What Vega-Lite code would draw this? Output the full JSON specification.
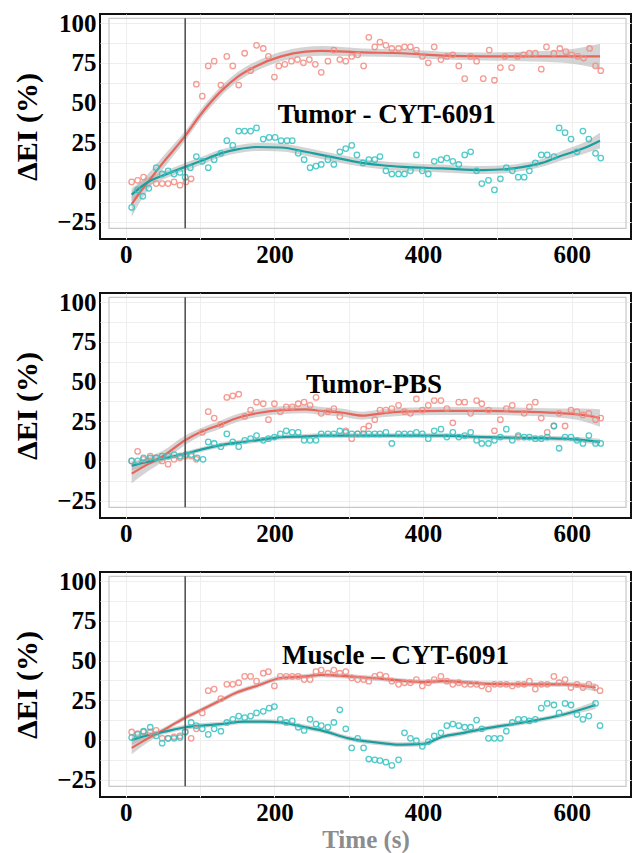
{
 "$schema": "https://vega.github.io/schema/vega-lite/v6.json",
 "padding": {"left": 11, "top": 10, "right": 0, "bottom": 0},
 "autosize": {"type": "pad"},
 "background": "white",
 "config": {
  "font": "Liberation Serif",
  "view": {"stroke": "#111111", "strokeWidth": 2},
  "axis": {"labelFont": "Liberation Serif", "labelFontWeight": "bold", "labelFontSize": 25, "labelColor": "#000", "titleFont": "Liberation Serif", "titleFontWeight": "bold", "titleFontSize": 30, "titleColor": "#000", "domain": false, "ticks": false, "tickSize": 0, "grid": false, "labelOverlap": false},
  "concat": {"spacing": 21}
 },
 "datasets": {
  "pts": [
   {"p":1,"g":"A","t":8,"v":0},{"p":1,"g":"A","t":16,"v":1},{"p":1,"g":"A","t":24,"v":3},{"p":1,"g":"A","t":41,"v":-1},{"p":1,"g":"A","t":49,"v":-1},{"p":1,"g":"A","t":57,"v":-1},{"p":1,"g":"A","t":65,"v":0},{"p":1,"g":"A","t":73,"v":-2},{"p":1,"g":"A","t":81,"v":0},{"p":1,"g":"A","t":88,"v":2},{"p":1,"g":"A","t":95,"v":61.5},{"p":1,"g":"A","t":103,"v":54},{"p":1,"g":"A","t":111,"v":73},{"p":1,"g":"A","t":119,"v":76},{"p":1,"g":"A","t":128,"v":61},{"p":1,"g":"A","t":136,"v":79},{"p":1,"g":"A","t":144,"v":73},{"p":1,"g":"A","t":152,"v":61},{"p":1,"g":"A","t":160,"v":81},{"p":1,"g":"A","t":168,"v":70},{"p":1,"g":"A","t":176,"v":86},{"p":1,"g":"A","t":185,"v":84},{"p":1,"g":"A","t":192,"v":79},{"p":1,"g":"A","t":200,"v":66},{"p":1,"g":"A","t":206,"v":73},{"p":1,"g":"A","t":214,"v":74},{"p":1,"g":"A","t":223,"v":76},{"p":1,"g":"A","t":231,"v":77},{"p":1,"g":"A","t":239,"v":75},{"p":1,"g":"A","t":247,"v":77},{"p":1,"g":"A","t":255,"v":74},{"p":1,"g":"A","t":263,"v":69},{"p":1,"g":"A","t":272,"v":76},{"p":1,"g":"A","t":280,"v":83},{"p":1,"g":"A","t":288,"v":77},{"p":1,"g":"A","t":296,"v":76},{"p":1,"g":"A","t":304,"v":79},{"p":1,"g":"A","t":312,"v":80},{"p":1,"g":"A","t":320,"v":73},{"p":1,"g":"A","t":327,"v":91},{"p":1,"g":"A","t":335,"v":85},{"p":1,"g":"A","t":342,"v":88},{"p":1,"g":"A","t":350,"v":86},{"p":1,"g":"A","t":358,"v":84},{"p":1,"g":"A","t":367,"v":84},{"p":1,"g":"A","t":375,"v":85},{"p":1,"g":"A","t":383,"v":85},{"p":1,"g":"A","t":391,"v":83},{"p":1,"g":"A","t":399,"v":79},{"p":1,"g":"A","t":407,"v":75},{"p":1,"g":"A","t":415,"v":85},{"p":1,"g":"A","t":424,"v":77},{"p":1,"g":"A","t":432,"v":79},{"p":1,"g":"A","t":440,"v":80},{"p":1,"g":"A","t":448,"v":73},{"p":1,"g":"A","t":456,"v":65},{"p":1,"g":"A","t":464,"v":79},{"p":1,"g":"A","t":472,"v":76},{"p":1,"g":"A","t":481,"v":65},{"p":1,"g":"A","t":489,"v":83},{"p":1,"g":"A","t":496,"v":64},{"p":1,"g":"A","t":504,"v":72},{"p":1,"g":"A","t":510,"v":79},{"p":1,"g":"A","t":519,"v":72},{"p":1,"g":"A","t":527,"v":79},{"p":1,"g":"A","t":535,"v":80},{"p":1,"g":"A","t":543,"v":81},{"p":1,"g":"A","t":551,"v":81},{"p":1,"g":"A","t":559,"v":71},{"p":1,"g":"A","t":566,"v":85},{"p":1,"g":"A","t":576,"v":81},{"p":1,"g":"A","t":584,"v":84},{"p":1,"g":"A","t":592,"v":82},{"p":1,"g":"A","t":600,"v":80},{"p":1,"g":"A","t":608,"v":79},{"p":1,"g":"A","t":616,"v":78},{"p":1,"g":"A","t":624,"v":84},{"p":1,"g":"A","t":632,"v":73},{"p":1,"g":"A","t":639,"v":70},
   {"p":1,"g":"B","t":8,"v":-16},{"p":1,"g":"B","t":16,"v":-5},{"p":1,"g":"B","t":23,"v":-9},{"p":1,"g":"B","t":31,"v":-4},{"p":1,"g":"B","t":41,"v":9},{"p":1,"g":"B","t":49,"v":5},{"p":1,"g":"B","t":57,"v":7},{"p":1,"g":"B","t":65,"v":5},{"p":1,"g":"B","t":73,"v":6},{"p":1,"g":"B","t":80,"v":3},{"p":1,"g":"B","t":87,"v":9},{"p":1,"g":"B","t":95,"v":16},{"p":1,"g":"B","t":103,"v":13},{"p":1,"g":"B","t":111,"v":9},{"p":1,"g":"B","t":119,"v":14},{"p":1,"g":"B","t":128,"v":18},{"p":1,"g":"B","t":136,"v":26},{"p":1,"g":"B","t":144,"v":23},{"p":1,"g":"B","t":152,"v":32},{"p":1,"g":"B","t":160,"v":32},{"p":1,"g":"B","t":168,"v":32},{"p":1,"g":"B","t":176,"v":34},{"p":1,"g":"B","t":185,"v":27},{"p":1,"g":"B","t":193,"v":28},{"p":1,"g":"B","t":201,"v":28},{"p":1,"g":"B","t":209,"v":26},{"p":1,"g":"B","t":217,"v":26},{"p":1,"g":"B","t":224,"v":26},{"p":1,"g":"B","t":232,"v":18},{"p":1,"g":"B","t":240,"v":14},{"p":1,"g":"B","t":248,"v":9},{"p":1,"g":"B","t":256,"v":10},{"p":1,"g":"B","t":263,"v":11},{"p":1,"g":"B","t":272,"v":14},{"p":1,"g":"B","t":280,"v":11},{"p":1,"g":"B","t":288,"v":19},{"p":1,"g":"B","t":296,"v":21},{"p":1,"g":"B","t":304,"v":23},{"p":1,"g":"B","t":311,"v":17},{"p":1,"g":"B","t":319,"v":12},{"p":1,"g":"B","t":327,"v":14},{"p":1,"g":"B","t":335,"v":14},{"p":1,"g":"B","t":342,"v":16},{"p":1,"g":"B","t":350,"v":7},{"p":1,"g":"B","t":358,"v":5},{"p":1,"g":"B","t":367,"v":5},{"p":1,"g":"B","t":375,"v":5},{"p":1,"g":"B","t":383,"v":7},{"p":1,"g":"B","t":391,"v":17},{"p":1,"g":"B","t":399,"v":7},{"p":1,"g":"B","t":407,"v":5},{"p":1,"g":"B","t":415,"v":13},{"p":1,"g":"B","t":424,"v":14},{"p":1,"g":"B","t":432,"v":15},{"p":1,"g":"B","t":440,"v":13},{"p":1,"g":"B","t":448,"v":11},{"p":1,"g":"B","t":456,"v":17},{"p":1,"g":"B","t":464,"v":19},{"p":1,"g":"B","t":472,"v":7},{"p":1,"g":"B","t":479,"v":-1},{"p":1,"g":"B","t":488,"v":1},{"p":1,"g":"B","t":496,"v":-5},{"p":1,"g":"B","t":504,"v":2},{"p":1,"g":"B","t":512,"v":9},{"p":1,"g":"B","t":520,"v":7},{"p":1,"g":"B","t":528,"v":3},{"p":1,"g":"B","t":536,"v":3},{"p":1,"g":"B","t":543,"v":7},{"p":1,"g":"B","t":551,"v":12},{"p":1,"g":"B","t":559,"v":17},{"p":1,"g":"B","t":567,"v":17},{"p":1,"g":"B","t":576,"v":16},{"p":1,"g":"B","t":583,"v":34},{"p":1,"g":"B","t":591,"v":31},{"p":1,"g":"B","t":599,"v":27},{"p":1,"g":"B","t":607,"v":19},{"p":1,"g":"B","t":615,"v":32},{"p":1,"g":"B","t":623,"v":27},{"p":1,"g":"B","t":632,"v":18},{"p":1,"g":"B","t":639,"v":15},
   {"p":2,"g":"A","t":8,"v":0},{"p":2,"g":"A","t":16,"v":6},{"p":2,"g":"A","t":24,"v":1},{"p":2,"g":"A","t":33,"v":3},{"p":2,"g":"A","t":41,"v":2},{"p":2,"g":"A","t":49,"v":0},{"p":2,"g":"A","t":57,"v":-2},{"p":2,"g":"A","t":65,"v":1},{"p":2,"g":"A","t":73,"v":2},{"p":2,"g":"A","t":80,"v":3},{"p":2,"g":"A","t":88,"v":3},{"p":2,"g":"A","t":95,"v":1},{"p":2,"g":"A","t":103,"v":18},{"p":2,"g":"A","t":111,"v":31},{"p":2,"g":"A","t":119,"v":27},{"p":2,"g":"A","t":128,"v":23},{"p":2,"g":"A","t":136,"v":40},{"p":2,"g":"A","t":144,"v":41},{"p":2,"g":"A","t":152,"v":42},{"p":2,"g":"A","t":160,"v":28},{"p":2,"g":"A","t":168,"v":32},{"p":2,"g":"A","t":176,"v":37},{"p":2,"g":"A","t":185,"v":36},{"p":2,"g":"A","t":192,"v":26},{"p":2,"g":"A","t":200,"v":36},{"p":2,"g":"A","t":208,"v":31},{"p":2,"g":"A","t":216,"v":34},{"p":2,"g":"A","t":224,"v":34},{"p":2,"g":"A","t":232,"v":36},{"p":2,"g":"A","t":240,"v":37},{"p":2,"g":"A","t":248,"v":35},{"p":2,"g":"A","t":256,"v":40},{"p":2,"g":"A","t":263,"v":30},{"p":2,"g":"A","t":272,"v":31},{"p":2,"g":"A","t":280,"v":33},{"p":2,"g":"A","t":288,"v":28},{"p":2,"g":"A","t":296,"v":19},{"p":2,"g":"A","t":304,"v":14},{"p":2,"g":"A","t":312,"v":17},{"p":2,"g":"A","t":320,"v":20},{"p":2,"g":"A","t":327,"v":22},{"p":2,"g":"A","t":335,"v":26},{"p":2,"g":"A","t":342,"v":32},{"p":2,"g":"A","t":350,"v":32},{"p":2,"g":"A","t":358,"v":33},{"p":2,"g":"A","t":367,"v":35},{"p":2,"g":"A","t":375,"v":31},{"p":2,"g":"A","t":383,"v":30},{"p":2,"g":"A","t":391,"v":39},{"p":2,"g":"A","t":399,"v":32},{"p":2,"g":"A","t":407,"v":35},{"p":2,"g":"A","t":415,"v":38},{"p":2,"g":"A","t":424,"v":38},{"p":2,"g":"A","t":432,"v":33},{"p":2,"g":"A","t":440,"v":24},{"p":2,"g":"A","t":448,"v":37},{"p":2,"g":"A","t":456,"v":37},{"p":2,"g":"A","t":464,"v":30},{"p":2,"g":"A","t":472,"v":38},{"p":2,"g":"A","t":479,"v":36},{"p":2,"g":"A","t":488,"v":32},{"p":2,"g":"A","t":496,"v":19},{"p":2,"g":"A","t":504,"v":26},{"p":2,"g":"A","t":512,"v":33},{"p":2,"g":"A","t":520,"v":35},{"p":2,"g":"A","t":528,"v":15},{"p":2,"g":"A","t":536,"v":30},{"p":2,"g":"A","t":543,"v":34},{"p":2,"g":"A","t":551,"v":37},{"p":2,"g":"A","t":559,"v":27},{"p":2,"g":"A","t":567,"v":18},{"p":2,"g":"A","t":576,"v":22},{"p":2,"g":"A","t":583,"v":30},{"p":2,"g":"A","t":591,"v":22},{"p":2,"g":"A","t":599,"v":32},{"p":2,"g":"A","t":607,"v":31},{"p":2,"g":"A","t":615,"v":29},{"p":2,"g":"A","t":623,"v":30},{"p":2,"g":"A","t":632,"v":26},{"p":2,"g":"A","t":639,"v":27},
   {"p":2,"g":"B","t":8,"v":0},{"p":2,"g":"B","t":16,"v":0},{"p":2,"g":"B","t":24,"v":2},{"p":2,"g":"B","t":33,"v":2},{"p":2,"g":"B","t":41,"v":2},{"p":2,"g":"B","t":49,"v":3},{"p":2,"g":"B","t":57,"v":3},{"p":2,"g":"B","t":65,"v":4},{"p":2,"g":"B","t":73,"v":3},{"p":2,"g":"B","t":81,"v":4},{"p":2,"g":"B","t":88,"v":4},{"p":2,"g":"B","t":96,"v":2},{"p":2,"g":"B","t":104,"v":1},{"p":2,"g":"B","t":111,"v":12},{"p":2,"g":"B","t":119,"v":11},{"p":2,"g":"B","t":128,"v":9},{"p":2,"g":"B","t":136,"v":17},{"p":2,"g":"B","t":144,"v":12},{"p":2,"g":"B","t":152,"v":9},{"p":2,"g":"B","t":160,"v":13},{"p":2,"g":"B","t":168,"v":14},{"p":2,"g":"B","t":176,"v":16},{"p":2,"g":"B","t":185,"v":13},{"p":2,"g":"B","t":192,"v":14},{"p":2,"g":"B","t":200,"v":15},{"p":2,"g":"B","t":208,"v":17},{"p":2,"g":"B","t":216,"v":19},{"p":2,"g":"B","t":224,"v":18},{"p":2,"g":"B","t":232,"v":18},{"p":2,"g":"B","t":240,"v":13},{"p":2,"g":"B","t":248,"v":13},{"p":2,"g":"B","t":256,"v":13},{"p":2,"g":"B","t":263,"v":17},{"p":2,"g":"B","t":272,"v":17},{"p":2,"g":"B","t":280,"v":17},{"p":2,"g":"B","t":288,"v":19},{"p":2,"g":"B","t":296,"v":18},{"p":2,"g":"B","t":304,"v":17},{"p":2,"g":"B","t":312,"v":17},{"p":2,"g":"B","t":320,"v":17},{"p":2,"g":"B","t":327,"v":17},{"p":2,"g":"B","t":335,"v":17},{"p":2,"g":"B","t":342,"v":17},{"p":2,"g":"B","t":350,"v":18},{"p":2,"g":"B","t":358,"v":11},{"p":2,"g":"B","t":367,"v":17},{"p":2,"g":"B","t":375,"v":17},{"p":2,"g":"B","t":383,"v":17},{"p":2,"g":"B","t":391,"v":18},{"p":2,"g":"B","t":399,"v":17},{"p":2,"g":"B","t":407,"v":14},{"p":2,"g":"B","t":415,"v":19},{"p":2,"g":"B","t":424,"v":20},{"p":2,"g":"B","t":432,"v":15},{"p":2,"g":"B","t":440,"v":18},{"p":2,"g":"B","t":448,"v":15},{"p":2,"g":"B","t":456,"v":16},{"p":2,"g":"B","t":464,"v":18},{"p":2,"g":"B","t":472,"v":13},{"p":2,"g":"B","t":479,"v":11},{"p":2,"g":"B","t":488,"v":11},{"p":2,"g":"B","t":496,"v":13},{"p":2,"g":"B","t":504,"v":15},{"p":2,"g":"B","t":512,"v":20},{"p":2,"g":"B","t":520,"v":13},{"p":2,"g":"B","t":528,"v":16},{"p":2,"g":"B","t":536,"v":15},{"p":2,"g":"B","t":543,"v":15},{"p":2,"g":"B","t":551,"v":14},{"p":2,"g":"B","t":559,"v":14},{"p":2,"g":"B","t":567,"v":15},{"p":2,"g":"B","t":576,"v":22},{"p":2,"g":"B","t":583,"v":8},{"p":2,"g":"B","t":591,"v":15},{"p":2,"g":"B","t":599,"v":15},{"p":2,"g":"B","t":607,"v":13},{"p":2,"g":"B","t":615,"v":11},{"p":2,"g":"B","t":623,"v":16},{"p":2,"g":"B","t":632,"v":11},{"p":2,"g":"B","t":639,"v":11},
   {"p":3,"g":"A","t":8,"v":5},{"p":3,"g":"A","t":16,"v":4},{"p":3,"g":"A","t":24,"v":5},{"p":3,"g":"A","t":33,"v":5},{"p":3,"g":"A","t":41,"v":6},{"p":3,"g":"A","t":49,"v":1},{"p":3,"g":"A","t":57,"v":1},{"p":3,"g":"A","t":65,"v":2},{"p":3,"g":"A","t":73,"v":2.5},{"p":3,"g":"A","t":80,"v":5},{"p":3,"g":"A","t":88,"v":1},{"p":3,"g":"A","t":95,"v":7},{"p":3,"g":"A","t":103,"v":17},{"p":3,"g":"A","t":111,"v":31},{"p":3,"g":"A","t":119,"v":32},{"p":3,"g":"A","t":128,"v":26},{"p":3,"g":"A","t":136,"v":35},{"p":3,"g":"A","t":144,"v":35},{"p":3,"g":"A","t":152,"v":36},{"p":3,"g":"A","t":160,"v":40},{"p":3,"g":"A","t":168,"v":40},{"p":3,"g":"A","t":176,"v":37},{"p":3,"g":"A","t":185,"v":42},{"p":3,"g":"A","t":192,"v":43},{"p":3,"g":"A","t":200,"v":34},{"p":3,"g":"A","t":208,"v":40},{"p":3,"g":"A","t":216,"v":40},{"p":3,"g":"A","t":224,"v":40},{"p":3,"g":"A","t":232,"v":40},{"p":3,"g":"A","t":240,"v":38},{"p":3,"g":"A","t":248,"v":38},{"p":3,"g":"A","t":256,"v":43},{"p":3,"g":"A","t":263,"v":44},{"p":3,"g":"A","t":272,"v":42},{"p":3,"g":"A","t":280,"v":44},{"p":3,"g":"A","t":288,"v":42},{"p":3,"g":"A","t":296,"v":43},{"p":3,"g":"A","t":304,"v":39},{"p":3,"g":"A","t":312,"v":38},{"p":3,"g":"A","t":320,"v":38},{"p":3,"g":"A","t":327,"v":37},{"p":3,"g":"A","t":335,"v":40},{"p":3,"g":"A","t":342,"v":41},{"p":3,"g":"A","t":350,"v":40},{"p":3,"g":"A","t":358,"v":37},{"p":3,"g":"A","t":367,"v":35},{"p":3,"g":"A","t":375,"v":36},{"p":3,"g":"A","t":383,"v":36},{"p":3,"g":"A","t":391,"v":38},{"p":3,"g":"A","t":399,"v":34},{"p":3,"g":"A","t":407,"v":36},{"p":3,"g":"A","t":415,"v":38},{"p":3,"g":"A","t":424,"v":40},{"p":3,"g":"A","t":432,"v":37},{"p":3,"g":"A","t":440,"v":35},{"p":3,"g":"A","t":448,"v":36},{"p":3,"g":"A","t":456,"v":35},{"p":3,"g":"A","t":464,"v":35},{"p":3,"g":"A","t":472,"v":35},{"p":3,"g":"A","t":479,"v":34},{"p":3,"g":"A","t":488,"v":32},{"p":3,"g":"A","t":496,"v":35},{"p":3,"g":"A","t":504,"v":35},{"p":3,"g":"A","t":512,"v":35},{"p":3,"g":"A","t":520,"v":34},{"p":3,"g":"A","t":528,"v":35},{"p":3,"g":"A","t":536,"v":35},{"p":3,"g":"A","t":543,"v":37},{"p":3,"g":"A","t":551,"v":32},{"p":3,"g":"A","t":559,"v":35},{"p":3,"g":"A","t":567,"v":35},{"p":3,"g":"A","t":576,"v":40},{"p":3,"g":"A","t":583,"v":36},{"p":3,"g":"A","t":591,"v":38},{"p":3,"g":"A","t":599,"v":33},{"p":3,"g":"A","t":607,"v":35},{"p":3,"g":"A","t":615,"v":33},{"p":3,"g":"A","t":623,"v":35},{"p":3,"g":"A","t":632,"v":33},{"p":3,"g":"A","t":638,"v":31},
   {"p":3,"g":"B","t":8,"v":1.5},{"p":3,"g":"B","t":16,"v":3.5},{"p":3,"g":"B","t":24,"v":5.5},{"p":3,"g":"B","t":33,"v":8},{"p":3,"g":"B","t":41,"v":2.5},{"p":3,"g":"B","t":49,"v":-2},{"p":3,"g":"B","t":57,"v":1},{"p":3,"g":"B","t":65,"v":1},{"p":3,"g":"B","t":73,"v":1.5},{"p":3,"g":"B","t":80,"v":5},{"p":3,"g":"B","t":88,"v":11},{"p":3,"g":"B","t":95,"v":9},{"p":3,"g":"B","t":103,"v":7},{"p":3,"g":"B","t":111,"v":3.5},{"p":3,"g":"B","t":119,"v":7},{"p":3,"g":"B","t":128,"v":5.5},{"p":3,"g":"B","t":136,"v":11},{"p":3,"g":"B","t":144,"v":13},{"p":3,"g":"B","t":152,"v":15},{"p":3,"g":"B","t":160,"v":14},{"p":3,"g":"B","t":168,"v":15},{"p":3,"g":"B","t":176,"v":17},{"p":3,"g":"B","t":185,"v":18},{"p":3,"g":"B","t":193,"v":20},{"p":3,"g":"B","t":200,"v":21},{"p":3,"g":"B","t":208,"v":13},{"p":3,"g":"B","t":216,"v":11},{"p":3,"g":"B","t":224,"v":12},{"p":3,"g":"B","t":232,"v":8},{"p":3,"g":"B","t":240,"v":6},{"p":3,"g":"B","t":248,"v":13},{"p":3,"g":"B","t":256,"v":10},{"p":3,"g":"B","t":263,"v":9},{"p":3,"g":"B","t":272,"v":8},{"p":3,"g":"B","t":280,"v":11},{"p":3,"g":"B","t":288,"v":19},{"p":3,"g":"B","t":296,"v":7},{"p":3,"g":"B","t":304,"v":-5},{"p":3,"g":"B","t":312,"v":1},{"p":3,"g":"B","t":320,"v":-5},{"p":3,"g":"B","t":327,"v":-12},{"p":3,"g":"B","t":335,"v":-12.5},{"p":3,"g":"B","t":342,"v":-13},{"p":3,"g":"B","t":350,"v":-14},{"p":3,"g":"B","t":358,"v":-16},{"p":3,"g":"B","t":367,"v":-12.5},{"p":3,"g":"B","t":375,"v":4.5},{"p":3,"g":"B","t":383,"v":1},{"p":3,"g":"B","t":391,"v":-0.5},{"p":3,"g":"B","t":399,"v":-4},{"p":3,"g":"B","t":407,"v":-1},{"p":3,"g":"B","t":415,"v":2.5},{"p":3,"g":"B","t":424,"v":4.5},{"p":3,"g":"B","t":432,"v":9},{"p":3,"g":"B","t":440,"v":10},{"p":3,"g":"B","t":448,"v":9},{"p":3,"g":"B","t":456,"v":8},{"p":3,"g":"B","t":464,"v":8},{"p":3,"g":"B","t":472,"v":12.5},{"p":3,"g":"B","t":479,"v":7},{"p":3,"g":"B","t":488,"v":1},{"p":3,"g":"B","t":496,"v":1},{"p":3,"g":"B","t":504,"v":1},{"p":3,"g":"B","t":512,"v":5.5},{"p":3,"g":"B","t":520,"v":11},{"p":3,"g":"B","t":528,"v":13},{"p":3,"g":"B","t":536,"v":13},{"p":3,"g":"B","t":543,"v":12},{"p":3,"g":"B","t":551,"v":13},{"p":3,"g":"B","t":559,"v":20},{"p":3,"g":"B","t":567,"v":23},{"p":3,"g":"B","t":576,"v":22},{"p":3,"g":"B","t":583,"v":17},{"p":3,"g":"B","t":591,"v":23},{"p":3,"g":"B","t":599,"v":22},{"p":3,"g":"B","t":607,"v":16},{"p":3,"g":"B","t":615,"v":13},{"p":3,"g":"B","t":623,"v":15},{"p":3,"g":"B","t":632,"v":23},{"p":3,"g":"B","t":638,"v":9}
  ],
  "fit": [
   {"p":1,"g":"A","t":8,"f":-14,"lo":-22,"hi":-6},{"p":1,"g":"A","t":20,"f":-6,"lo":-12,"hi":0},{"p":1,"g":"A","t":30,"f":0,"lo":-5,"hi":5},{"p":1,"g":"A","t":50,"f":12,"lo":8,"hi":16},{"p":1,"g":"A","t":80,"f":29,"lo":26,"hi":32},{"p":1,"g":"A","t":100,"f":42,"lo":39,"hi":45},{"p":1,"g":"A","t":128,"f":57,"lo":54,"hi":60},{"p":1,"g":"A","t":150,"f":66,"lo":63,"hi":69},{"p":1,"g":"A","t":176,"f":73,"lo":70,"hi":76},{"p":1,"g":"A","t":209,"f":79,"lo":76,"hi":82},{"p":1,"g":"A","t":242,"f":82,"lo":79,"hi":85},{"p":1,"g":"A","t":263,"f":82.5,"lo":79.5,"hi":85.5},{"p":1,"g":"A","t":318,"f":81.5,"lo":79,"hi":84},{"p":1,"g":"A","t":372,"f":81,"lo":78.5,"hi":83.5},{"p":1,"g":"A","t":426,"f":79.5,"lo":77,"hi":82},{"p":1,"g":"A","t":481,"f":79,"lo":76.5,"hi":81.5},{"p":1,"g":"A","t":535,"f":79,"lo":76,"hi":82},{"p":1,"g":"A","t":589,"f":79,"lo":75,"hi":83},{"p":1,"g":"A","t":638,"f":79,"lo":71,"hi":87},
   {"p":1,"g":"B","t":8,"f":-8,"lo":-12,"hi":-4},{"p":1,"g":"B","t":30,"f":0,"lo":-3,"hi":3},{"p":1,"g":"B","t":50,"f":4,"lo":1.5,"hi":6.5},{"p":1,"g":"B","t":80,"f":9.5,"lo":7,"hi":12},{"p":1,"g":"B","t":100,"f":13,"lo":10.5,"hi":15.5},{"p":1,"g":"B","t":128,"f":18,"lo":15.5,"hi":20.5},{"p":1,"g":"B","t":150,"f":20.5,"lo":18,"hi":23},{"p":1,"g":"B","t":176,"f":22,"lo":19.5,"hi":24.5},{"p":1,"g":"B","t":209,"f":21.7,"lo":19.2,"hi":24.2},{"p":1,"g":"B","t":242,"f":19,"lo":16.5,"hi":21.5},{"p":1,"g":"B","t":263,"f":17,"lo":14.5,"hi":19.5},{"p":1,"g":"B","t":290,"f":14.5,"lo":12,"hi":17},{"p":1,"g":"B","t":318,"f":12,"lo":9.5,"hi":14.5},{"p":1,"g":"B","t":345,"f":10.5,"lo":8,"hi":13},{"p":1,"g":"B","t":372,"f":9.5,"lo":7,"hi":12},{"p":1,"g":"B","t":426,"f":8.5,"lo":6,"hi":11},{"p":1,"g":"B","t":481,"f":7.5,"lo":5,"hi":10},{"p":1,"g":"B","t":510,"f":8,"lo":5.5,"hi":10.5},{"p":1,"g":"B","t":535,"f":9.5,"lo":7,"hi":12},{"p":1,"g":"B","t":560,"f":12,"lo":9.5,"hi":14.5},{"p":1,"g":"B","t":589,"f":17,"lo":14,"hi":20},{"p":1,"g":"B","t":615,"f":21,"lo":17.5,"hi":24.5},{"p":1,"g":"B","t":638,"f":26,"lo":21,"hi":31},
   {"p":2,"g":"A","t":8,"f":-8,"lo":-14,"hi":-2},{"p":2,"g":"A","t":30,"f":-2,"lo":-6.5,"hi":2.5},{"p":2,"g":"A","t":50,"f":3,"lo":-0.5,"hi":6.5},{"p":2,"g":"A","t":80,"f":13,"lo":10,"hi":16},{"p":2,"g":"A","t":100,"f":18,"lo":15.5,"hi":20.5},{"p":2,"g":"A","t":128,"f":23,"lo":20.5,"hi":25.5},{"p":2,"g":"A","t":150,"f":27,"lo":24.5,"hi":29.5},{"p":2,"g":"A","t":176,"f":30,"lo":27.5,"hi":32.5},{"p":2,"g":"A","t":209,"f":32,"lo":29.5,"hi":34.5},{"p":2,"g":"A","t":242,"f":32.5,"lo":30,"hi":35},{"p":2,"g":"A","t":263,"f":31.5,"lo":29,"hi":34},{"p":2,"g":"A","t":290,"f":30.5,"lo":28,"hi":33},{"p":2,"g":"A","t":318,"f":28.5,"lo":26,"hi":31},{"p":2,"g":"A","t":345,"f":30,"lo":27.5,"hi":32.5},{"p":2,"g":"A","t":372,"f":31,"lo":28.5,"hi":33.5},{"p":2,"g":"A","t":426,"f":31.5,"lo":29,"hi":34},{"p":2,"g":"A","t":481,"f":31.5,"lo":29,"hi":34},{"p":2,"g":"A","t":535,"f":31,"lo":28.5,"hi":33.5},{"p":2,"g":"A","t":589,"f":30,"lo":27,"hi":33},{"p":2,"g":"A","t":615,"f":29,"lo":25,"hi":33},{"p":2,"g":"A","t":638,"f":27,"lo":21.5,"hi":32.5},
   {"p":2,"g":"B","t":8,"f":-3,"lo":-6,"hi":0},{"p":2,"g":"B","t":30,"f":-0.5,"lo":-2.5,"hi":1.5},{"p":2,"g":"B","t":50,"f":1.5,"lo":0,"hi":3},{"p":2,"g":"B","t":80,"f":4.5,"lo":3,"hi":6},{"p":2,"g":"B","t":100,"f":7,"lo":5.5,"hi":8.5},{"p":2,"g":"B","t":128,"f":10,"lo":8.5,"hi":11.5},{"p":2,"g":"B","t":150,"f":11.5,"lo":10,"hi":13},{"p":2,"g":"B","t":176,"f":13,"lo":11.5,"hi":14.5},{"p":2,"g":"B","t":209,"f":15,"lo":13.5,"hi":16.5},{"p":2,"g":"B","t":242,"f":15.5,"lo":14,"hi":17},{"p":2,"g":"B","t":263,"f":16,"lo":14.5,"hi":17.5},{"p":2,"g":"B","t":318,"f":16,"lo":14.5,"hi":17.5},{"p":2,"g":"B","t":372,"f":16,"lo":14.5,"hi":17.5},{"p":2,"g":"B","t":426,"f":16,"lo":14.5,"hi":17.5},{"p":2,"g":"B","t":481,"f":15,"lo":13.5,"hi":16.5},{"p":2,"g":"B","t":535,"f":14.5,"lo":13,"hi":16},{"p":2,"g":"B","t":589,"f":14,"lo":12.5,"hi":15.5},{"p":2,"g":"B","t":638,"f":12,"lo":10,"hi":14},
   {"p":3,"g":"A","t":8,"f":-5,"lo":-9,"hi":-1},{"p":3,"g":"A","t":30,"f":1,"lo":-1.5,"hi":3.5},{"p":3,"g":"A","t":50,"f":6,"lo":4.5,"hi":7.5},{"p":3,"g":"A","t":80,"f":14,"lo":12.5,"hi":15.5},{"p":3,"g":"A","t":100,"f":18.5,"lo":17,"hi":20},{"p":3,"g":"A","t":128,"f":25,"lo":23.5,"hi":26.5},{"p":3,"g":"A","t":150,"f":30,"lo":28.5,"hi":31.5},{"p":3,"g":"A","t":176,"f":34,"lo":32.5,"hi":35.5},{"p":3,"g":"A","t":209,"f":39,"lo":37.5,"hi":40.5},{"p":3,"g":"A","t":242,"f":40,"lo":38.5,"hi":41.5},{"p":3,"g":"A","t":263,"f":41,"lo":39.5,"hi":42.5},{"p":3,"g":"A","t":300,"f":40,"lo":38.5,"hi":41.5},{"p":3,"g":"A","t":345,"f":38.5,"lo":37,"hi":40},{"p":3,"g":"A","t":400,"f":36.5,"lo":35,"hi":38},{"p":3,"g":"A","t":426,"f":37,"lo":35.5,"hi":38.5},{"p":3,"g":"A","t":481,"f":35.5,"lo":34,"hi":37},{"p":3,"g":"A","t":535,"f":35,"lo":33.5,"hi":36.5},{"p":3,"g":"A","t":589,"f":35,"lo":33.5,"hi":36.5},{"p":3,"g":"A","t":632,"f":33,"lo":30.5,"hi":35.5},
   {"p":3,"g":"B","t":8,"f":0,"lo":-3,"hi":3},{"p":3,"g":"B","t":30,"f":3,"lo":1,"hi":5},{"p":3,"g":"B","t":50,"f":5,"lo":3.5,"hi":6.5},{"p":3,"g":"B","t":80,"f":8,"lo":6.5,"hi":9.5},{"p":3,"g":"B","t":100,"f":9,"lo":7.5,"hi":10.5},{"p":3,"g":"B","t":128,"f":10,"lo":8.5,"hi":11.5},{"p":3,"g":"B","t":160,"f":11.5,"lo":10,"hi":13},{"p":3,"g":"B","t":185,"f":11.5,"lo":10,"hi":13},{"p":3,"g":"B","t":209,"f":11,"lo":9.5,"hi":12.5},{"p":3,"g":"B","t":242,"f":8,"lo":6.5,"hi":9.5},{"p":3,"g":"B","t":263,"f":6,"lo":4.5,"hi":7.5},{"p":3,"g":"B","t":300,"f":1,"lo":-0.5,"hi":2.5},{"p":3,"g":"B","t":345,"f":-2,"lo":-3.5,"hi":-0.5},{"p":3,"g":"B","t":372,"f":-3,"lo":-4.5,"hi":-1.5},{"p":3,"g":"B","t":400,"f":-2.5,"lo":-4,"hi":-1},{"p":3,"g":"B","t":426,"f":2,"lo":0.5,"hi":3.5},{"p":3,"g":"B","t":455,"f":4.5,"lo":3,"hi":6},{"p":3,"g":"B","t":481,"f":7,"lo":5.5,"hi":8.5},{"p":3,"g":"B","t":535,"f":11,"lo":9.5,"hi":12.5},{"p":3,"g":"B","t":589,"f":16,"lo":14.5,"hi":17.5},{"p":3,"g":"B","t":632,"f":22,"lo":19.5,"hi":24.5}
  ],
  "labels": [
   {"p":1,"label":"Tumor - CYT-6091","t":351,"v":42},
   {"p":2,"label":"Tumor-PBS","t":334,"v":48},
   {"p":3,"label":"Muscle – CYT-6091","t":363,"v":53}
  ],
  "marker": [{"t":80}]
 },
 "vconcat": [
  {
   "width": 531, "height": 225,
   "resolve": {"axis": {"x": "independent", "y": "independent"}, "scale": {"color": "independent"}},
   "layer": [
    {"data": {"name": "marker"},
     "mark": {"type": "rect", "filled": false, "stroke": "#c8c8c8", "strokeWidth": 1.2},
     "encoding": {"x": {"datum": -22.5, "type": "quantitative", "scale": {"domain": [-34.6, 679.7], "nice": false, "zero": false}, "axis": {"orient": "top", "labels": false, "grid": true, "gridColor": "#eeeeee", "values": [0,100,200,300,400,500,600], "title": null}}, "x2": {"datum": 673},
      "y": {"datum": -29.2, "type": "quantitative", "scale": {"domain": [-35.9, 105.7], "nice": false, "zero": false}, "axis": {"orient": "right", "labels": false, "grid": true, "gridColor": "#eeeeee", "values": [-25,-12.5,0,12.5,25,37.5,50,62.5,75,87.5,100], "title": null}}, "y2": {"datum": 103}}},
    {"data": {"name": "fit"}, "transform": [{"filter": "datum.p == 1"}],
     "mark": {"type": "area", "color": "#a9a9a9", "opacity": 0.5, "interpolate": "monotone"},
     "encoding": {"x": {"field": "t", "type": "quantitative", "scale": {"domain": [-34.6, 679.7], "nice": false, "zero": false}, "axis": null},
      "y": {"field": "lo", "type": "quantitative", "scale": {"domain": [-35.9, 105.7], "nice": false, "zero": false}, "axis": null},
      "y2": {"field": "hi"}, "detail": {"field": "g"}}},
    {"data": {"name": "fit"}, "transform": [{"filter": "datum.p == 1"}],
     "mark": {"type": "line", "strokeWidth": 2.2, "interpolate": "monotone"},
     "encoding": {"x": {"field": "t", "type": "quantitative", "scale": {"domain": [-34.6, 679.7], "nice": false, "zero": false}, "axis": null},
      "y": {"field": "f", "type": "quantitative", "scale": {"domain": [-35.9, 105.7], "nice": false, "zero": false}, "axis": null},
      "color": {"field": "g", "type": "nominal", "scale": {"domain": ["A","B"], "range": ["#e8655b", "#1a9f9f"]}, "legend": null}}},
    {"data": {"name": "pts"}, "transform": [{"filter": "datum.p == 1"}],
     "mark": {"type": "point", "filled": false, "size": 30, "strokeWidth": 1.3, "opacity": 0.85},
     "encoding": {"x": {"field": "t", "type": "quantitative", "scale": {"domain": [-34.6, 679.7], "nice": false, "zero": false}, "axis": {"orient": "bottom", "values": [0,200,400,600], "labelPadding": 3, "title": null}},
      "y": {"field": "v", "type": "quantitative", "scale": {"domain": [-35.9, 105.7], "nice": false, "zero": false}, "axis": {"orient": "left", "values": [-25,0,25,50,75,100], "labelPadding": 4, "title": "ΔEI (%)", "titlePadding": 14}},
      "color": {"field": "g", "type": "nominal", "scale": {"domain": ["A","B"], "range": ["#f38b81", "#35c2c2"]}, "legend": null}}},
    {"data": {"name": "marker"},
     "mark": {"type": "rule", "color": "#555555", "strokeWidth": 1.6},
     "encoding": {"x": {"field": "t", "type": "quantitative", "scale": {"domain": [-34.6, 679.7], "nice": false, "zero": false}, "axis": null},
      "y": {"datum": -29.2, "type": "quantitative", "scale": {"domain": [-35.9, 105.7], "nice": false, "zero": false}, "axis": null}, "y2": {"datum": 103}}},
    {"data": {"name": "labels"}, "transform": [{"filter": "datum.p == 1"}],
     "mark": {"type": "text", "font": "Liberation Serif", "fontWeight": "bold", "fontSize": 27, "color": "#000", "align": "center", "baseline": "middle"},
     "encoding": {"x": {"field": "t", "type": "quantitative", "scale": {"domain": [-34.6, 679.7], "nice": false, "zero": false}, "axis": null},
      "y": {"field": "v", "type": "quantitative", "scale": {"domain": [-35.9, 105.7], "nice": false, "zero": false}, "axis": null},
      "text": {"field": "label"}}}
   ]
  },
  {
   "width": 531, "height": 225,
   "resolve": {"axis": {"x": "independent", "y": "independent"}, "scale": {"color": "independent"}},
   "layer": [
    {"data": {"name": "marker"},
     "mark": {"type": "rect", "filled": false, "stroke": "#c8c8c8", "strokeWidth": 1.2},
     "encoding": {"x": {"datum": -22.5, "type": "quantitative", "scale": {"domain": [-34.6, 679.7], "nice": false, "zero": false}, "axis": {"orient": "top", "labels": false, "grid": true, "gridColor": "#eeeeee", "values": [0,100,200,300,400,500,600], "title": null}}, "x2": {"datum": 673},
      "y": {"datum": -29.2, "type": "quantitative", "scale": {"domain": [-35.9, 105.7], "nice": false, "zero": false}, "axis": {"orient": "right", "labels": false, "grid": true, "gridColor": "#eeeeee", "values": [-25,-12.5,0,12.5,25,37.5,50,62.5,75,87.5,100], "title": null}}, "y2": {"datum": 103}}},
    {"data": {"name": "fit"}, "transform": [{"filter": "datum.p == 2"}],
     "mark": {"type": "area", "color": "#a9a9a9", "opacity": 0.5, "interpolate": "monotone"},
     "encoding": {"x": {"field": "t", "type": "quantitative", "scale": {"domain": [-34.6, 679.7], "nice": false, "zero": false}, "axis": null},
      "y": {"field": "lo", "type": "quantitative", "scale": {"domain": [-35.9, 105.7], "nice": false, "zero": false}, "axis": null},
      "y2": {"field": "hi"}, "detail": {"field": "g"}}},
    {"data": {"name": "fit"}, "transform": [{"filter": "datum.p == 2"}],
     "mark": {"type": "line", "strokeWidth": 2.2, "interpolate": "monotone"},
     "encoding": {"x": {"field": "t", "type": "quantitative", "scale": {"domain": [-34.6, 679.7], "nice": false, "zero": false}, "axis": null},
      "y": {"field": "f", "type": "quantitative", "scale": {"domain": [-35.9, 105.7], "nice": false, "zero": false}, "axis": null},
      "color": {"field": "g", "type": "nominal", "scale": {"domain": ["A","B"], "range": ["#e8655b", "#1a9f9f"]}, "legend": null}}},
    {"data": {"name": "pts"}, "transform": [{"filter": "datum.p == 2"}],
     "mark": {"type": "point", "filled": false, "size": 30, "strokeWidth": 1.3, "opacity": 0.85},
     "encoding": {"x": {"field": "t", "type": "quantitative", "scale": {"domain": [-34.6, 679.7], "nice": false, "zero": false}, "axis": {"orient": "bottom", "values": [0,200,400,600], "labelPadding": 3, "title": null}},
      "y": {"field": "v", "type": "quantitative", "scale": {"domain": [-35.9, 105.7], "nice": false, "zero": false}, "axis": {"orient": "left", "values": [-25,0,25,50,75,100], "labelPadding": 4, "title": "ΔEI (%)", "titlePadding": 14}},
      "color": {"field": "g", "type": "nominal", "scale": {"domain": ["A","B"], "range": ["#f38b81", "#35c2c2"]}, "legend": null}}},
    {"data": {"name": "marker"},
     "mark": {"type": "rule", "color": "#555555", "strokeWidth": 1.6},
     "encoding": {"x": {"field": "t", "type": "quantitative", "scale": {"domain": [-34.6, 679.7], "nice": false, "zero": false}, "axis": null},
      "y": {"datum": -29.2, "type": "quantitative", "scale": {"domain": [-35.9, 105.7], "nice": false, "zero": false}, "axis": null}, "y2": {"datum": 103}}},
    {"data": {"name": "labels"}, "transform": [{"filter": "datum.p == 2"}],
     "mark": {"type": "text", "font": "Liberation Serif", "fontWeight": "bold", "fontSize": 27, "color": "#000", "align": "center", "baseline": "middle"},
     "encoding": {"x": {"field": "t", "type": "quantitative", "scale": {"domain": [-34.6, 679.7], "nice": false, "zero": false}, "axis": null},
      "y": {"field": "v", "type": "quantitative", "scale": {"domain": [-35.9, 105.7], "nice": false, "zero": false}, "axis": null},
      "text": {"field": "label"}}}
   ]
  },
  {
   "width": 531, "height": 225,
   "resolve": {"axis": {"x": "independent", "y": "independent"}, "scale": {"color": "independent"}},
   "layer": [
    {"data": {"name": "marker"},
     "mark": {"type": "rect", "filled": false, "stroke": "#c8c8c8", "strokeWidth": 1.2},
     "encoding": {"x": {"datum": -22.5, "type": "quantitative", "scale": {"domain": [-34.6, 679.7], "nice": false, "zero": false}, "axis": {"orient": "top", "labels": false, "grid": true, "gridColor": "#eeeeee", "values": [0,100,200,300,400,500,600], "title": null}}, "x2": {"datum": 673},
      "y": {"datum": -29.2, "type": "quantitative", "scale": {"domain": [-35.9, 105.7], "nice": false, "zero": false}, "axis": {"orient": "right", "labels": false, "grid": true, "gridColor": "#eeeeee", "values": [-25,-12.5,0,12.5,25,37.5,50,62.5,75,87.5,100], "title": null}}, "y2": {"datum": 103}}},
    {"data": {"name": "fit"}, "transform": [{"filter": "datum.p == 3"}],
     "mark": {"type": "area", "color": "#a9a9a9", "opacity": 0.5, "interpolate": "monotone"},
     "encoding": {"x": {"field": "t", "type": "quantitative", "scale": {"domain": [-34.6, 679.7], "nice": false, "zero": false}, "axis": null},
      "y": {"field": "lo", "type": "quantitative", "scale": {"domain": [-35.9, 105.7], "nice": false, "zero": false}, "axis": null},
      "y2": {"field": "hi"}, "detail": {"field": "g"}}},
    {"data": {"name": "fit"}, "transform": [{"filter": "datum.p == 3"}],
     "mark": {"type": "line", "strokeWidth": 2.2, "interpolate": "monotone"},
     "encoding": {"x": {"field": "t", "type": "quantitative", "scale": {"domain": [-34.6, 679.7], "nice": false, "zero": false}, "axis": null},
      "y": {"field": "f", "type": "quantitative", "scale": {"domain": [-35.9, 105.7], "nice": false, "zero": false}, "axis": null},
      "color": {"field": "g", "type": "nominal", "scale": {"domain": ["A","B"], "range": ["#e8655b", "#1a9f9f"]}, "legend": null}}},
    {"data": {"name": "pts"}, "transform": [{"filter": "datum.p == 3"}],
     "mark": {"type": "point", "filled": false, "size": 30, "strokeWidth": 1.3, "opacity": 0.85},
     "encoding": {"x": {"field": "t", "type": "quantitative", "scale": {"domain": [-34.6, 679.7], "nice": false, "zero": false}, "axis": {"orient": "bottom", "values": [0,200,400,600], "labelPadding": 3, "title": "Time (s)", "titleColor": "#8c8c8c", "titleFontSize": 25, "titlePadding": 2}},
      "y": {"field": "v", "type": "quantitative", "scale": {"domain": [-35.9, 105.7], "nice": false, "zero": false}, "axis": {"orient": "left", "values": [-25,0,25,50,75,100], "labelPadding": 4, "title": "ΔEI (%)", "titlePadding": 14}},
      "color": {"field": "g", "type": "nominal", "scale": {"domain": ["A","B"], "range": ["#f38b81", "#35c2c2"]}, "legend": null}}},
    {"data": {"name": "marker"},
     "mark": {"type": "rule", "color": "#555555", "strokeWidth": 1.6},
     "encoding": {"x": {"field": "t", "type": "quantitative", "scale": {"domain": [-34.6, 679.7], "nice": false, "zero": false}, "axis": null},
      "y": {"datum": -29.2, "type": "quantitative", "scale": {"domain": [-35.9, 105.7], "nice": false, "zero": false}, "axis": null}, "y2": {"datum": 103}}},
    {"data": {"name": "labels"}, "transform": [{"filter": "datum.p == 3"}],
     "mark": {"type": "text", "font": "Liberation Serif", "fontWeight": "bold", "fontSize": 27, "color": "#000", "align": "center", "baseline": "middle"},
     "encoding": {"x": {"field": "t", "type": "quantitative", "scale": {"domain": [-34.6, 679.7], "nice": false, "zero": false}, "axis": null},
      "y": {"field": "v", "type": "quantitative", "scale": {"domain": [-35.9, 105.7], "nice": false, "zero": false}, "axis": null},
      "text": {"field": "label"}}}
   ]
  }
 ]
}
